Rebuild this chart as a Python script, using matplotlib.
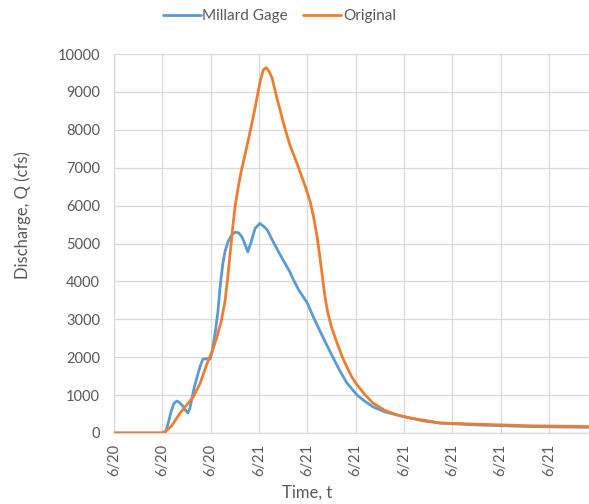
import matplotlib
matplotlib.use("Agg")
import matplotlib.pyplot as plt

plt.rcParams['font.family'] = ['Lato', 'DejaVu Sans']

# Tick positions along the time axis and their date labels
tick_labels = ["6/20", "6/20", "6/20", "6/21", "6/21", "6/21", "6/21", "6/21", "6/21", "6/21"]

# Millard Gage observed hydrograph (time in tick units, discharge in cfs)
gage_t = [0.00, 1.00, 1.06, 1.12, 1.18, 1.24, 1.30, 1.36, 1.43, 1.49, 1.53, 1.57, 1.61, 1.66,
          1.72, 1.78, 1.84, 1.92, 1.99, 2.04, 2.10, 2.15, 2.20, 2.25, 2.30, 2.36, 2.44, 2.51,
          2.58, 2.65, 2.72, 2.77, 2.84, 2.92, 3.02, 3.10, 3.17, 3.30, 3.44, 3.55, 3.64, 3.70,
          3.82, 4.00, 4.13, 4.27, 4.40, 4.53, 4.67, 4.82, 5.03, 5.20, 5.36, 5.60, 5.86, 6.40,
          6.75, 7.58, 8.61, 9.83]
gage_q = [0, 0, 0, 250, 560, 780, 844, 800, 700, 580, 528, 650, 900, 1200,
          1478, 1750, 1950, 1960, 1950, 2200, 2700, 3200, 3900, 4450, 4800, 5050, 5230, 5300,
          5280, 5170, 4950, 4780, 5050, 5400, 5530, 5450, 5360, 5030, 4700, 4450, 4250, 4080,
          3780, 3430, 3050, 2670, 2330, 2000, 1650, 1320, 1000, 830, 690, 560, 475, 320,
          260, 210, 170, 150]

# Original modelled hydrograph
orig_t = [0.00, 1.00, 1.10, 1.20, 1.37, 1.50, 1.64, 1.78, 1.93, 2.03, 2.13, 2.22, 2.30, 2.35,
          2.40, 2.46, 2.51, 2.57, 2.63, 2.70, 2.77, 2.85, 2.92, 2.97, 3.03, 3.09, 3.15, 3.21,
          3.27, 3.32, 3.37, 3.44, 3.50, 3.57, 3.64, 3.75, 3.85, 3.96, 4.06, 4.13, 4.20, 4.26,
          4.31, 4.36, 4.42, 4.50, 4.60, 4.72, 4.82, 4.92, 5.03, 5.20, 5.36, 5.60, 5.86, 6.10,
          6.40, 6.75, 7.20, 7.58, 8.61, 9.83]
orig_q = [0, 0, 80, 200, 530, 730, 950, 1300, 1850, 2150, 2530, 2950, 3500, 4050,
          4700, 5450, 6020, 6480, 6890, 7280, 7680, 8150, 8580, 8920, 9300, 9580, 9640, 9540,
          9370, 9110, 8840, 8510, 8210, 7900, 7600, 7240, 6890, 6500, 6100, 5700, 5200, 4650,
          4150, 3650, 3200, 2800, 2430, 2020, 1740, 1480, 1270, 1000, 790, 600, 475, 400,
          340, 265, 245, 230, 190, 170]

BLUE = "#5B9BD5"
ORANGE = "#ED7D31"
GRID = "#D9D9D9"
TEXT = "#595959"

fig = plt.figure(figsize=(5.89, 5.04), dpi=100)
ax = fig.add_axes([114 / 589, 71 / 504, 1 - 114 / 589, 379 / 504])

ax.plot(gage_t, gage_q, color=BLUE, lw=2.0, solid_joinstyle="round", solid_capstyle="round",
        label="Millard Gage", zorder=3)
ax.plot(orig_t, orig_q, color=ORANGE, lw=2.0, solid_joinstyle="round", solid_capstyle="round",
        label="Original", zorder=4)

ax.set_xlim(0, 9.83)
ax.set_ylim(0, 10000)
ax.set_xticks(range(len(tick_labels)))
ax.set_xticklabels(tick_labels, rotation=90)
ax.set_yticks(range(0, 10001, 1000))
ax.tick_params(axis="both", length=0, colors=TEXT, labelsize=10.5)
ax.tick_params(axis="x", pad=8)
ax.tick_params(axis="y", pad=10)

ax.grid(True, color=GRID, lw=0.9)
ax.set_axisbelow(True)
for side in ("top", "right"):
    ax.spines[side].set_visible(False)
for side in ("left", "bottom"):
    ax.spines[side].set_color(GRID)
    ax.spines[side].set_linewidth(0.9)

ax.set_ylabel("Discharge, Q (cfs)", color=TEXT, fontsize=12)
ax.yaxis.set_label_coords(-0.175, 0.575)
ax.set_xlabel("Time, t", color=TEXT, fontsize=12)
ax.xaxis.set_label_coords(0.406, -0.135)

leg = fig.legend(loc="center", bbox_to_anchor=(0.474, 0.968), ncol=2, frameon=False,
                 fontsize=11, handlelength=2.5, columnspacing=1.0, handletextpad=0.1)
for t in leg.get_texts():
    t.set_color(TEXT)

fig.savefig("out.png", dpi=100)
